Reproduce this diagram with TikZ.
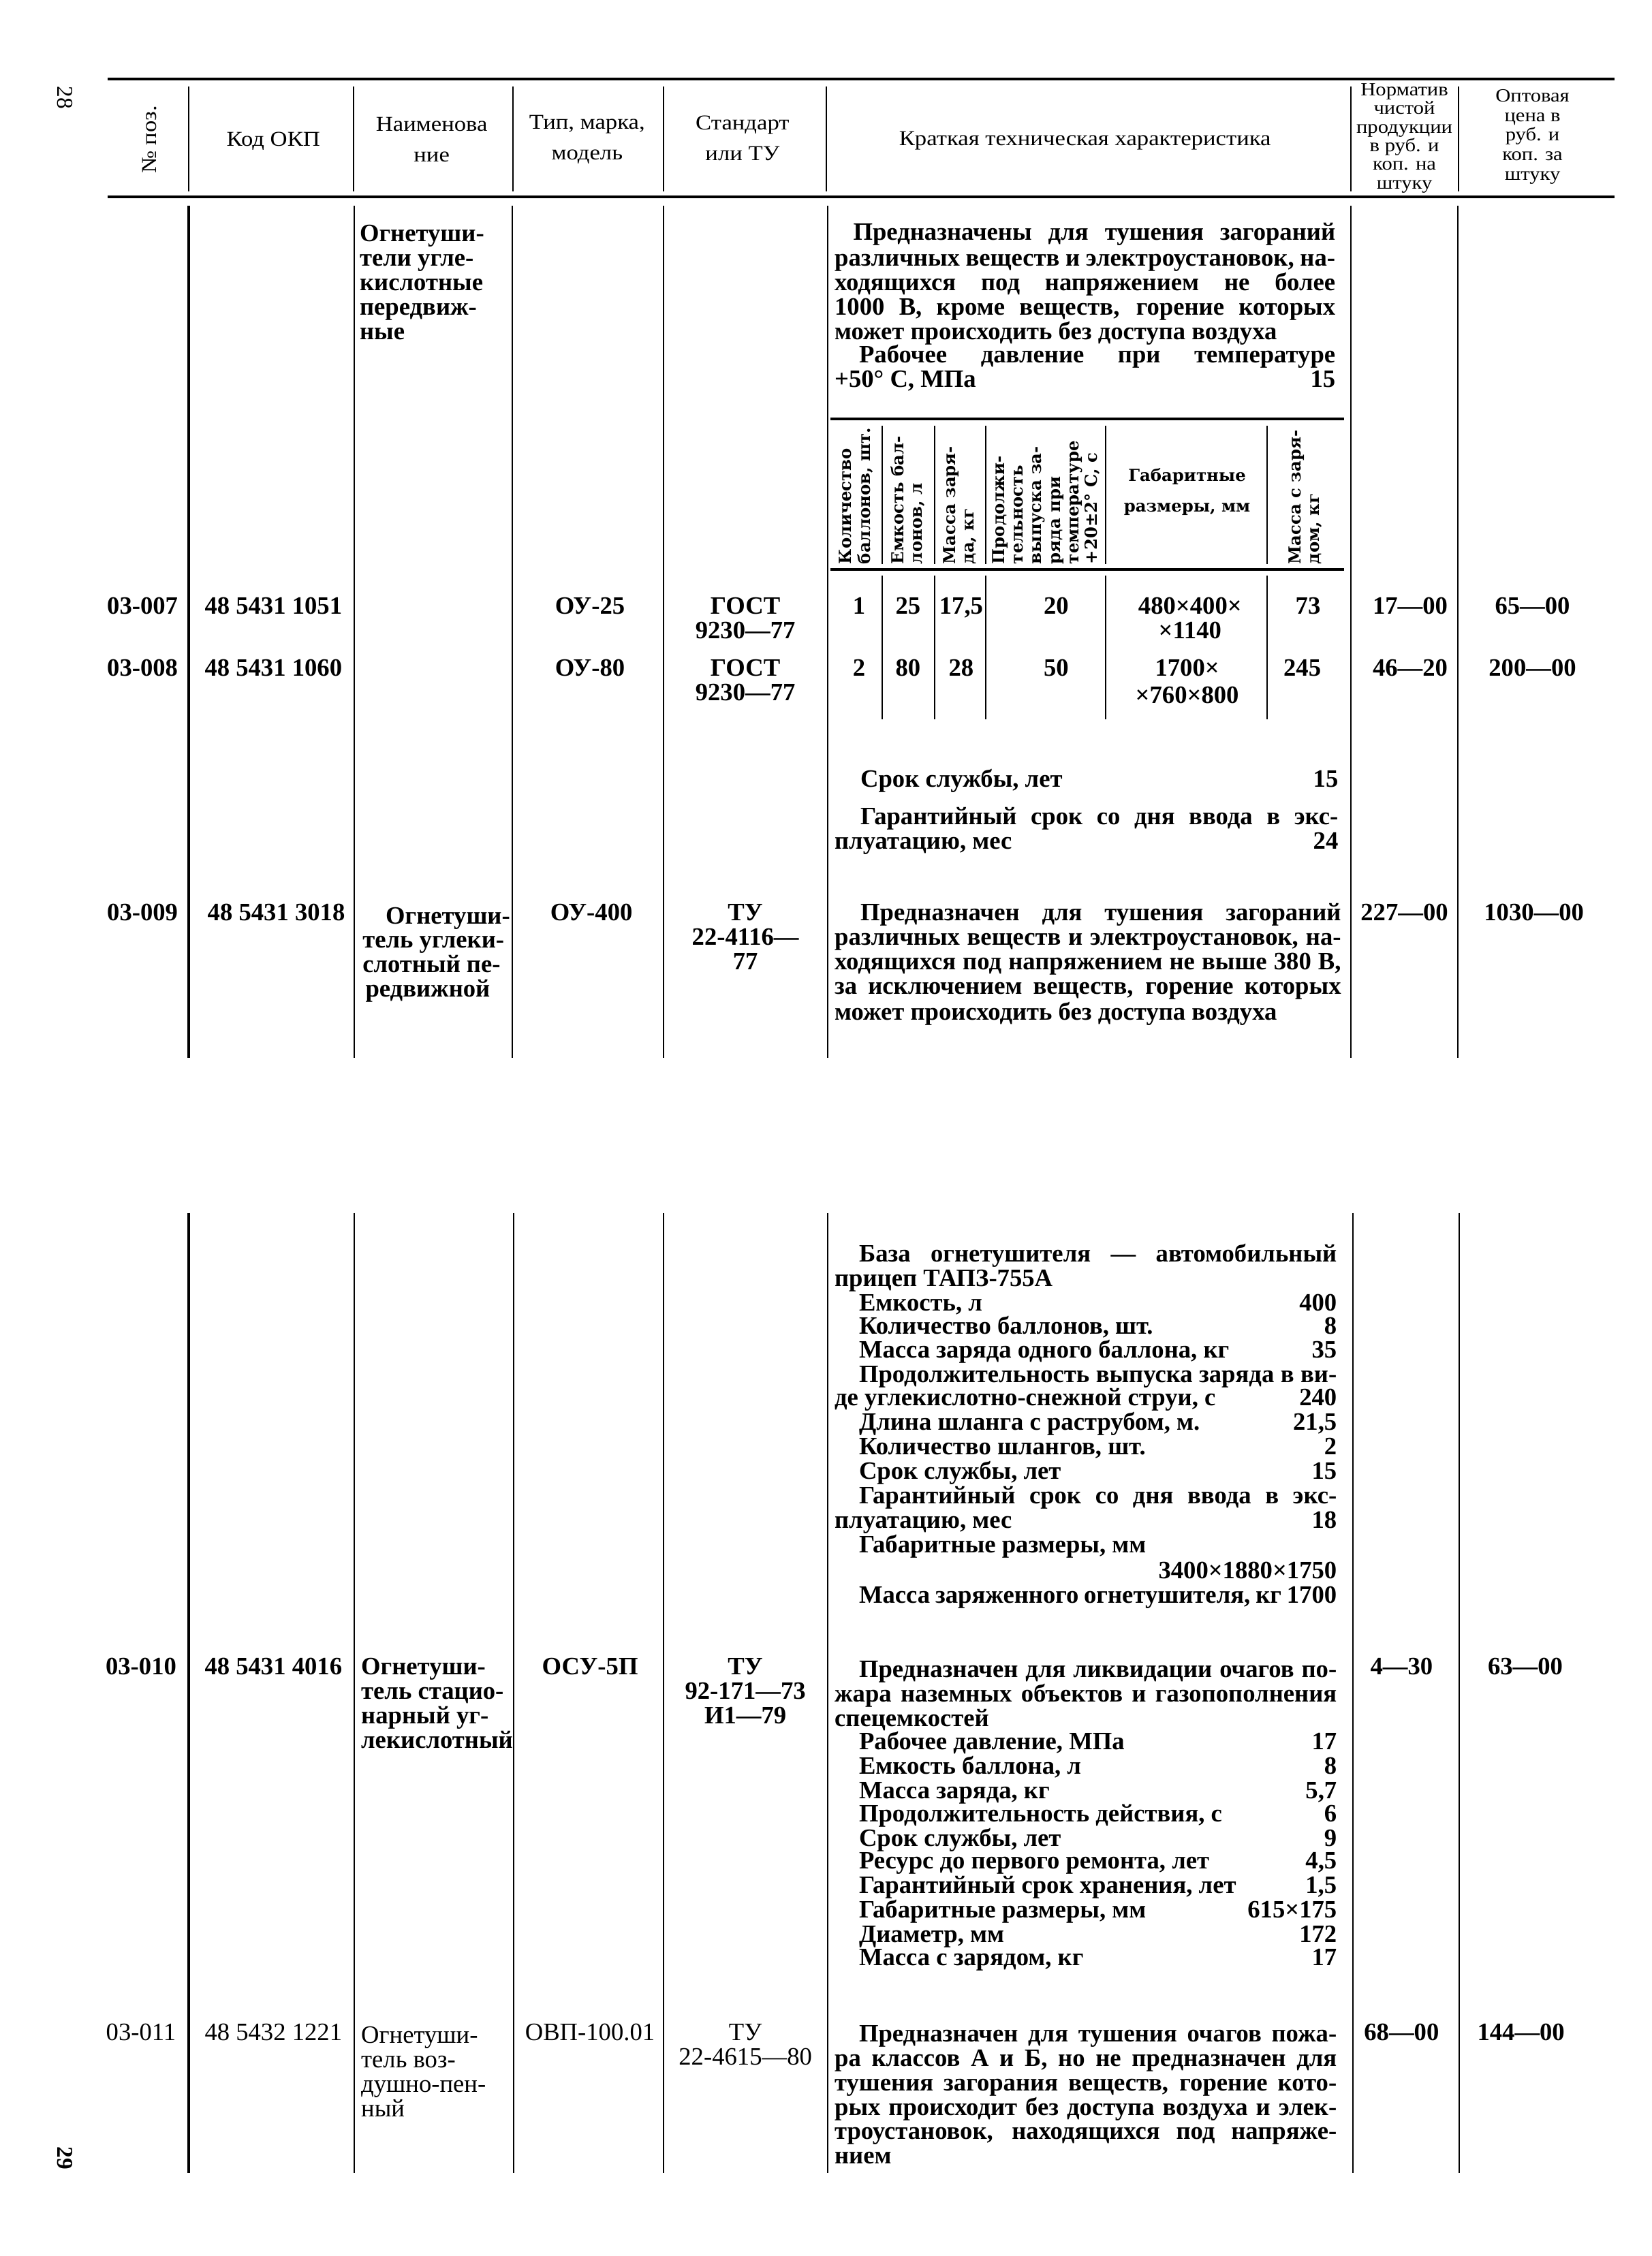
\documentclass[tikz,border=0pt]{standalone}
\usepackage{graphicx}
\usepackage{fontspec}
\setmainfont{Liberation Serif}
\newfontfamily\rotfam{DejaVu Serif}
\newfontfamily\hdfam[FakeStretch=1.12]{Liberation Serif}
\newcommand\bodyf{\fontsize{11}{10.77}\selectfont\bfseries}
\newcommand\lightf{\fontsize{11}{10.77}\selectfont}
\newcommand\hdf{\hdfam\fontsize{9.3}{13.3}\selectfont}
\newcommand\hdsf{\hdfam\fontsize{8.2}{8.2}\selectfont}
\newcommand\rotf{\rotfam\bfseries\fontsize{7.3}{8.2}\selectfont}
\newcount\cellno
\newcommand\cellC[4][]{\global\advance\cellno by 1\relax
  \node[tx,anchor=base,#1] (c\the\cellno) at (#2,#3+5) {#4};}
\newcommand\cellL[4][]{\global\advance\cellno by 1\relax
  \node[tx,anchor=base west,#1] (c\the\cellno) at (#2,#3+5) {#4};}
\newcommand\jline[4]{\global\advance\cellno by 1\relax
  \pgfmathsetlengthmacro\jw{(#2-#1)*0.63372}%
  \setbox0=\hbox{\bodyf #4}%
  \ifdim\wd0>\jw\relax
    \node[tx,anchor=base west] (c\the\cellno) at (#1,#3+5) {\resizebox{\jw}{\height}{#4}};
  \else
    \node[tx,anchor=base west] (c\the\cellno) at (#1,#3+5) {\makebox[\jw][s]{#4}};
  \fi}
\begin{document}
\begin{tikzpicture}[x=0.63372pt,y=-0.63372pt,
  every node/.style={inner sep=0pt,outer sep=0pt},
  tx/.style={font=\bodyf},
  lt/.style={font=\lightf},
  hd/.style={font=\hdf,align=center},
  hds/.style={font=\hdsf,align=center},
  rot/.style={font=\rotf,rotate=90,align=left,anchor=west},
  rule/.style={line width=1.2pt},
  vl/.style={line width=0.6pt},
  vlk/.style={line width=1.2pt}]
\fill[white] (0,0) rectangle (1148,1568);
\useasboundingbox (0,0) rectangle (1148,1568);

% page numbers
\node[font=\fontsize{10}{10}\selectfont,rotate=-90] (p28) at (45,68) {28};
\node[font=\fontsize{10}{10}\selectfont\bfseries,rotate=-90] (p29) at (45,1500) {29};

% header rules
\draw[rule] (75,55) -- (1122,55);
\draw[rule] (75,137) -- (1122,137);
\foreach \x in {131,245.5,356.5,461,574.5,939,1013.5}
  \draw[vl] (\x,60) -- (\x,133);

% header texts
\node[hd,rotate=90] (h0) at (104,97) {№ поз.};
\node[hd] (h1) at (190,98) {Код ОКП};
\node[hd] (h2) at (300,97) {Наименова\\ние};
\node[hd] (h3) at (408,97) {Тип, марка,\\модель};
\node[hd] (h4) at (516,96) {Стандарт\\или ТУ};
\node[hd] (h5) at (754,98) {Краткая техническая характеристика};
\node[hds] (h6) at (976,96) {Норматив\\чистой\\продукции\\в руб. и\\коп. на\\штуку};
\node[hds,font=\hdfam\fontsize{8.2}{8.6}\selectfont] (h7) at (1065,95) {Оптовая\\цена в\\руб. и\\коп. за\\штуку};

% upper body verticals
\draw[vlk] (131,143) -- (131,735);
\foreach \x in {246,356,461,575,939,1013}
  \draw[vl] (\x,143) -- (\x,735);

% lower body verticals
\draw[vlk] (131,843) -- (131,1510);
\foreach \x in {246,357,461,575,940,1014}
  \draw[vl] (\x,843) -- (\x,1510);

% inner table
\draw[rule] (577,291) -- (934,291);
\draw[rule] (577,396) -- (934,396);
\foreach \x in {613,649.5,685,768.5,880.5}{
  \draw[vl] (\x,296) -- (\x,392);
  \draw[vl] (\x,400) -- (\x,500);}
\node[rot] (r1) at (595,392) {Количество\\баллонов, шт.};
\node[rot] (r2) at (631,392) {Емкость бал-\\лонов, л};
\node[rot] (r3) at (667,392) {Масса заря-\\да, кг};
\node[rot] (r4) at (727,392) {Продолжи-\\тельность\\выпуска за-\\ряда при\\температуре\\+20±2° С, с};
\node[font=\rotf] (r5) at (825,331) {Габаритные};
\node[font=\rotf] (r6) at (825,354) {размеры, мм};
\node[rot] (r7) at (907,392) {Масса с заря-\\дом, кг};

% upper name cell
\cellL{250}{163}{Огнетуши-}
\cellL{250}{180}{тели угле-}
\cellL{250}{197}{кислотные}
\cellL{250}{214}{передвиж-}
\cellL{250}{231}{ные}

% upper description
\jline{593}{928}{162}{Предназначены для тушения загораний}
\jline{580}{928}{180}{различных веществ и электроустановок, на-}
\jline{580}{928}{197}{ходящихся под напряжением не более}
\jline{580}{928}{214}{1000 В, кроме веществ, горение которых}
\cellL{580}{231}{может происходить без доступа воздуха}
\jline{597}{928}{247}{Рабочее давление при температуре}
\jline{580}{928}{264}{+50° С, МПа\hfill 15}

% row 03-007
\cellC{99}{422}{03-007}
\cellC{190}{422}{48 5431 1051}
\cellC{410}{422}{ОУ-25}
\cellC{518}{422}{ГОСТ}
\cellC{518}{439}{9230—77}
\cellC{597}{422}{1}
\cellC{631}{422}{25}
\cellC{668}{422}{17,5}
\cellC{734}{422}{20}
\cellC{827}{422}{480×400×}
\cellC{827}{439}{×1140}
\cellC{909}{422}{73}
\cellC{980}{422}{17—00}
\cellC{1065}{422}{65—00}

% row 03-008
\cellC{99}{465}{03-008}
\cellC{190}{465}{48 5431 1060}
\cellC{410}{465}{ОУ-80}
\cellC{518}{465}{ГОСТ}
\cellC{518}{482}{9230—77}
\cellC{597}{465}{2}
\cellC{631}{465}{80}
\cellC{668}{465}{28}
\cellC{734}{465}{50}
\cellC{825}{465}{1700×}
\cellC{825}{484}{×760×800}
\cellC{905}{465}{245}
\cellC{980}{465}{46—20}
\cellC{1065}{465}{200—00}

\jline{598}{930}{542}{Срок службы, лет\hfill 15}
\jline{598}{930}{568}{Гарантийный срок со дня ввода в экс-}
\jline{580}{930}{585}{плуатацию, мес\hfill 24}

% row 03-009
\cellC{99}{635}{03-009}
\cellC{192}{635}{48 5431 3018}
\cellL{268}{637}{Огнетуши-}
\cellL{252}{654}{тель углеки-}
\cellL{252}{671}{слотный пе-}
\cellL{254}{688}{редвижной}
\cellC{411}{635}{ОУ-400}
\cellC{518}{635}{ТУ}
\cellC{518}{652}{22-4116—}
\cellC{518}{669}{77}
\jline{598}{932}{635}{Предназначен для тушения загораний}
\jline{580}{932}{652}{различных веществ и электроустановок, на-}
\jline{580}{932}{669}{ходящихся под напряжением не выше 380 В,}
\jline{580}{932}{686}{за исключением веществ, горение которых}
\cellL{580}{704}{может происходить без доступа воздуха}
\cellC{976}{635}{227—00}
\cellC{1066}{635}{1030—00}

% lower block
\jline{597}{929}{872}{База огнетушителя — автомобильный}
\cellL{580}{889}{прицеп ТАПЗ-755А}
\jline{597}{929}{906}{Емкость, л\hfill 400}
\jline{597}{929}{922}{Количество баллонов, шт.\hfill 8}
\jline{597}{929}{939}{Масса заряда одного баллона, кг\hfill 35}
\jline{597}{929}{956}{Продолжительность выпуска заряда в ви-}
\jline{580}{929}{972}{де углекислотно-снежной струи, с\hfill 240}
\jline{597}{929}{989}{Длина шланга с раструбом, м.\hfill 21,5}
\jline{597}{929}{1006}{Количество шлангов, шт.\hfill 2}
\jline{597}{929}{1023}{Срок службы, лет\hfill 15}
\jline{597}{929}{1040}{Гарантийный срок со дня ввода в экс-}
\jline{580}{929}{1057}{плуатацию, мес\hfill 18}
\cellL{597}{1074}{Габаритные размеры, мм}
\jline{597}{929}{1092}{\hfill 3400×1880×1750}
\jline{597}{929}{1109}{Масса заряженного огнетушителя, кг 1700}

% row 03-010
\cellC{98}{1159}{03-010}
\cellC{190}{1159}{48 5431 4016}
\cellL{251}{1159}{Огнетуши-}
\cellL{251}{1176}{тель стацио-}
\cellL{251}{1193}{нарный уг-}
\cellL{251}{1210}{лекислотный}
\cellC{410}{1159}{ОСУ-5П}
\cellC{518}{1159}{ТУ}
\cellC{518}{1176}{92-171—73}
\cellC{518}{1193}{И1—79}
\jline{597}{929}{1161}{Предназначен для ликвидации очагов по-}
\jline{580}{929}{1178}{жара наземных объектов и газопополнения}
\cellL{580}{1195}{спецемкостей}
\jline{597}{929}{1211}{Рабочее давление, МПа\hfill 17}
\jline{597}{929}{1228}{Емкость баллона, л\hfill 8}
\jline{597}{929}{1245}{Масса заряда, кг\hfill 5,7}
\jline{597}{929}{1261}{Продолжительность действия, с\hfill 6}
\jline{597}{929}{1278}{Срок службы, лет\hfill 9}
\jline{597}{929}{1294}{Ресурс до первого ремонта, лет\hfill 4,5}
\jline{597}{929}{1311}{Гарантийный срок хранения, лет\hfill 1,5}
\jline{597}{929}{1328}{Габаритные размеры, мм\hfill 615×175}
\jline{597}{929}{1345}{Диаметр, мм\hfill 172}
\jline{597}{929}{1361}{Масса с зарядом, кг\hfill 17}
\cellC{974}{1159}{4—30}
\cellC{1060}{1159}{63—00}

% row 03-011
\cellC[lt]{98}{1413}{03-011}
\cellC[lt]{190}{1413}{48 5432 1221}
\cellL[lt]{251}{1415}{Огнетуши-}
\cellL[lt]{251}{1432}{тель воз-}
\cellL[lt]{251}{1449}{душно-пен-}
\cellL[lt]{251}{1466}{ный}
\cellC[lt]{410}{1413}{ОВП-100.01}
\cellC[lt]{518}{1413}{ТУ}
\cellC[lt]{518}{1430}{22-4615—80}
\jline{597}{929}{1414}{Предназначен для тушения очагов пожа-}
\jline{580}{929}{1431}{ра классов А и Б, но не предназначен для}
\jline{580}{929}{1448}{тушения загорания веществ, горение кото-}
\jline{580}{929}{1465}{рых происходит без доступа воздуха и элек-}
\jline{580}{929}{1482}{троустановок, находящихся под напряже-}
\cellL{580}{1499}{нием}
\cellC{974}{1413}{68—00}
\cellC{1057}{1413}{144—00}
\end{tikzpicture}
\end{document}
